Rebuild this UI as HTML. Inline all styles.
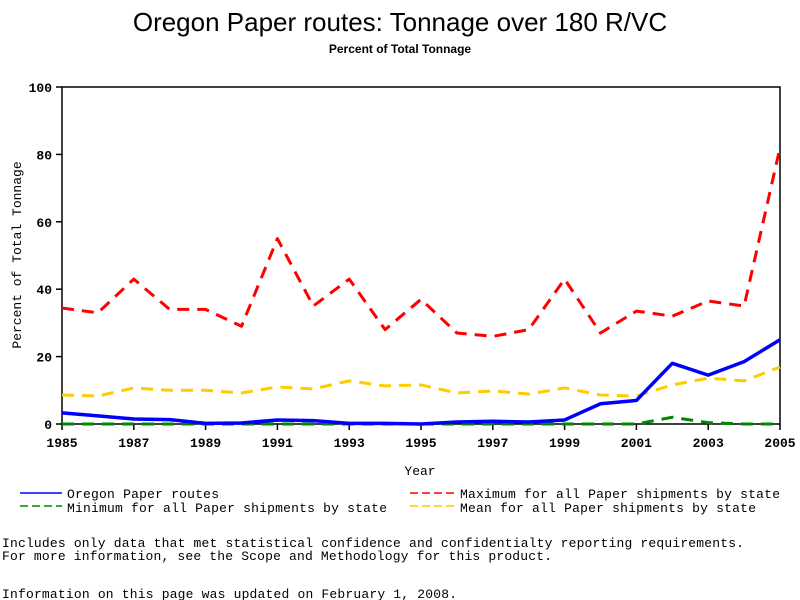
<!DOCTYPE html>
<html><head><meta charset="utf-8"><style>body{margin:0;background:#fff}svg{display:block}</style></head>
<body>
<svg id="c" width="800" height="600" xmlns="http://www.w3.org/2000/svg" font-family="Liberation Mono, monospace">
<text x="400" y="31" text-anchor="middle" font-family="Liberation Sans, sans-serif" font-size="26">Oregon Paper routes: Tonnage over 180 R/VC</text>
<text x="400" y="53" text-anchor="middle" font-family="Liberation Sans, sans-serif" font-size="12" font-weight="bold">Percent of Total Tonnage</text>
<rect x="62" y="87" width="718" height="337" fill="none" stroke="#000" stroke-width="1.5"/>
<g id="ax"></g><g id="series"></g>
<text x="420" y="475" text-anchor="middle" font-size="13">Year</text>
<text transform="translate(21,255) rotate(-90)" text-anchor="middle" font-size="13">Percent of Total Tonnage</text>
<g font-size="13">
<line x1="20" y1="493" x2="62" y2="493" stroke="#00f" stroke-width="1.5"/>
<text x="67" y="498" textLength="152">Oregon Paper routes</text>
<line x1="20" y1="506" x2="62" y2="506" stroke="#080" stroke-width="1.5" stroke-dasharray="8,4"/>
<text x="67" y="512" textLength="320">Minimum for all Paper shipments by state</text>
<line x1="410" y1="493" x2="455" y2="493" stroke="#f00" stroke-width="1.5" stroke-dasharray="8,4"/>
<text x="460" y="498" textLength="320">Maximum for all Paper shipments by state</text>
<line x1="410" y1="506" x2="455" y2="506" stroke="#fc0" stroke-width="1.5" stroke-dasharray="8,4"/>
<text x="460" y="512" textLength="296">Mean for all Paper shipments by state</text>
</g>
<g font-size="13">
<text x="2" y="547" textLength="742">Includes only data that met statistical confidence and confidentialty reporting requirements.</text>
<text x="2" y="560" textLength="550">For more information, see the Scope and Methodology for this product.</text>
<text x="2" y="598" textLength="455">Information on this page was updated on February 1, 2008.</text>
</g>
</svg>
<script>
const years=[1985,1986,1987,1988,1989,1990,1991,1992,1993,1994,1995,1996,1997,1998,1999,2000,2001,2002,2003,2004,2005];
const oregon=[3.3,2.4,1.5,1.3,0.2,0.3,1.2,1,0.2,0.2,0,0.6,0.8,0.6,1.2,6,7,18,14.5,18.5,25];
const maximum=[34.4,33,43,34,34,29,55,35,43,28,37,27,26,28,43,27,33.5,32,36.5,35,82];
const minimum=[0,0,0,0,0,0,0,0,0,0,0,0,0,0,0,0,0,2,0.4,0,0];
const mean=[8.6,8.3,10.7,10,10,9.2,11,10.4,12.8,11.3,11.6,9.2,9.8,8.9,10.7,8.6,8.3,11.6,13.6,12.8,16.9];
const yTicks=[0,20,40,60,80,100];
const xTicks=[1985,1987,1989,1991,1993,1995,1997,1999,2001,2003,2005];
const NS='http://www.w3.org/2000/svg';
const X=y=>62+(y-1985)/20*718, Y=v=>424-v/100*337;
const ax=document.getElementById('ax'), sg=document.getElementById('series');
function mk(t,a,p){const e=document.createElementNS(NS,t);for(const k in a)e.setAttribute(k,a[k]);p.appendChild(e);return e;}
yTicks.forEach(v=>{
 const l=mk('line',{x1:56,x2:62,y1:Y(v),y2:Y(v),stroke:'#000','stroke-width':1.5},ax);
 
 
 const t=mk('text',{x:52,y:Y(v)+5,'text-anchor':'end','font-size':13,'font-weight':'bold'},ax);t.textContent=v;
 
 
});
xTicks.forEach(v=>{
 const l=mk('line',{x1:X(v),x2:X(v),y1:424,y2:430,stroke:'#000','stroke-width':1.5},ax);
 
 
 const t=mk('text',{x:X(v),y:447,'text-anchor':'middle','font-size':13,'font-weight':'bold'},ax);t.textContent=v;
 
 
});
function line(d,col,w,dash,name){
 const p=mk('polyline',{points:d.map((v,i)=>X(years[i])+','+Y(v)).join(' '),fill:'none',stroke:col,'stroke-width':w,'stroke-dasharray':dash,'stroke-linejoin':'round'},sg);
 
 
}
line(mean,'#fc0',3,'12,8','line-mean');
line(maximum,'#f00',3,'12,8','line-maximum');
line(minimum,'#080',3,'12,8','line-minimum');
line(oregon,'#00f',3.5,'none','line-oregon');
</script>
</body></html>
